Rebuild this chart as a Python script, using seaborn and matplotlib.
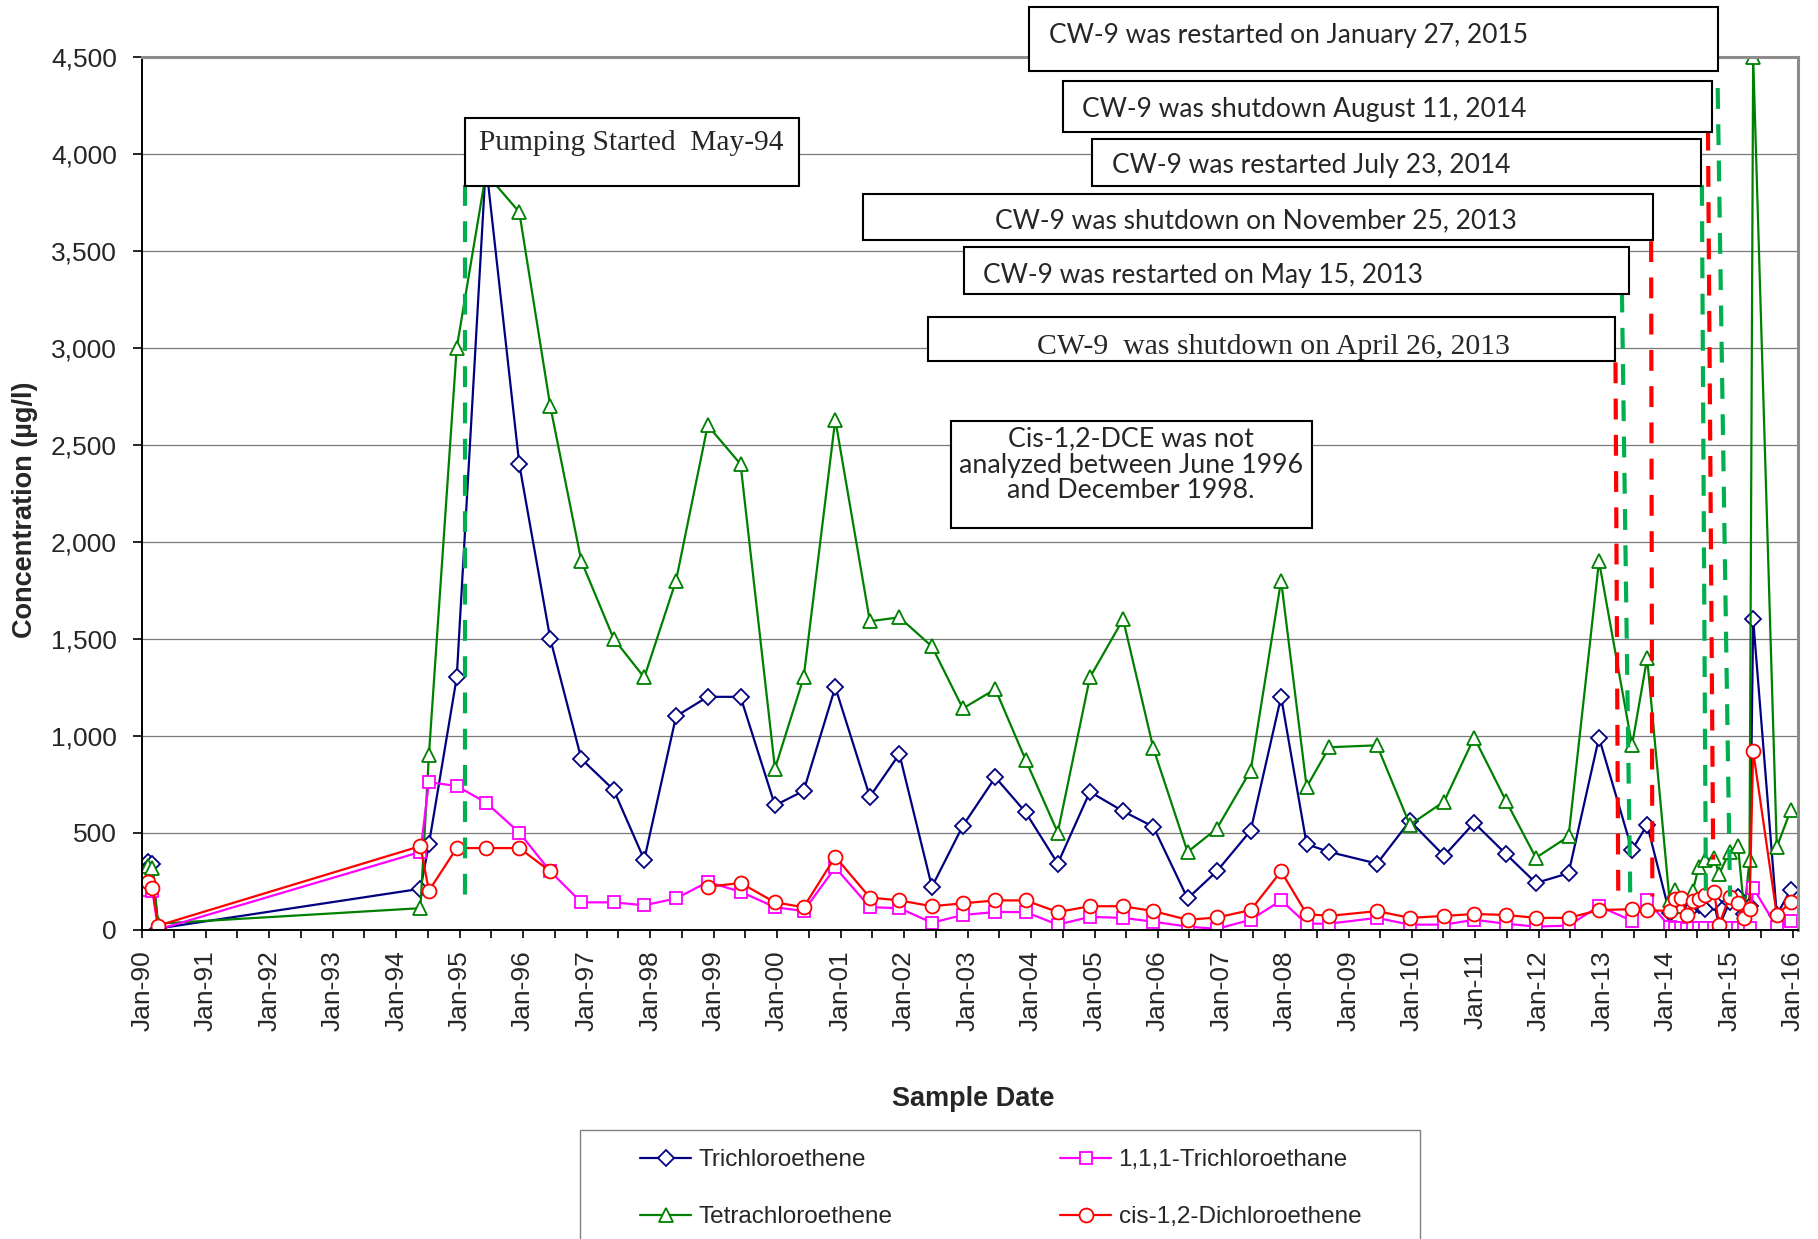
import numpy as np
import pandas as pd
import matplotlib
matplotlib.use("Agg")
import matplotlib.pyplot as plt
import matplotlib.dates as mdates
from matplotlib.lines import Line2D
from matplotlib.patches import Rectangle
from matplotlib.ticker import MultipleLocator, StrMethodFormatter
import seaborn as sns

nan = np.nan

# sample dates
sample_dates = [
    "1990-02-05", "1990-02-28", "1990-04-02",
    "1994-05-20", "1994-07-08", "1994-12-15", "1995-06-01", "1995-12-10",
    "1996-06-05", "1996-12-01", "1997-06-05", "1997-11-28", "1998-05-30",
    "1998-11-28", "1999-06-05", "1999-12-20", "2000-06-02", "2000-12-01",
    "2001-06-18", "2001-12-05", "2002-06-10", "2002-12-05", "2003-06-10",
    "2003-12-01", "2004-06-03", "2004-12-05", "2005-06-14", "2005-12-05",
    "2006-06-20", "2006-12-05", "2007-06-18", "2007-12-10", "2008-05-05",
    "2008-09-12", "2009-06-14", "2009-12-20", "2010-07-05", "2010-12-25",
    "2011-06-25", "2011-12-15", "2012-06-20", "2012-12-12", "2013-06-20",
    "2013-09-15", "2014-01-22", "2014-02-25", "2014-03-28", "2014-05-05",
    "2014-06-05", "2014-07-08", "2014-08-14", "2014-10-05", "2014-11-03",
    "2015-01-02", "2015-02-20", "2015-03-28", "2015-04-27", "2015-05-18",
    "2015-10-01", "2015-12-20",
]

trichloroethene = [
    350, 340, 5,
    210, 440, 1300, 3950, 2400,
    1500, 880, 720, 360, 1100,
    1200, 1200, 640, 715, 1250,
    685, 905, 220, 535, 785,
    605, 340, 710, 610, 530,
    160, 300, 510, 1200, 440,
    400, 340, 560, 380, 550,
    390, 240, 290, 990, 410,
    540, 85, 130, 140, 90,
    115, 125, 105, 140, 17,
    140, 170, 80, 120, 1600,
    75, 205,
]

tetrachloroethene = [
    330, 315, 30,
    110, 900, 3000, 3900, 3700,
    2700, 1900, 1500, 1300, 1800,
    2600, 2400, 830, 1300, 2630,
    1590, 1610, 1460, 1140, 1240,
    875, 500, 1300, 1600, 935,
    400, 520, 820, 1800, 735,
    940, 950, 540, 660, 990,
    665, 370, 480, 1900, 950,
    1400, 150, 205, 120, 30,
    200, 320, 360, 370, 285,
    400, 430, 90, 360, 4500,
    425, 615,
]

trichloroethane = [
    205, 200, 0,
    400, 760, 740, 655, 500,
    300, 140, 140, 125, 160,
    245, 195, 115, 95, 320,
    115, 110, 35, 75, 90,
    90, 25, 65, 60, 40,
    15, 3, 50, 150, 30,
    30, 60, 25, 25, 50,
    30, 15, 20, 120, 45,
    150, 15, 10, 10, 3,
    8, 8, 8, 8, 0,
    8, 8, 8, 10, 215,
    12, 45,
]

# cis-1,2-DCE was not analyzed June 1996 - December 1998
dichloroethene = [
    245, 213, 20,
    430, 200, 420, 420, 420,
    300, nan, nan, nan, nan,
    220, 240, 140, 115, 375,
    165, 150, 120, 135, 150,
    150, 90, 120, 120, 95,
    50, 62, 100, 300, 80,
    70, 95, 60, 70, 80,
    75, 60, 60, 100, 105,
    100, 95, 155, 165, 75,
    145, 155, 180, 195, 25,
    170, 135, 60, 105, 920,
    75, 140,
]

compounds = ["Trichloroethene", "Tetrachloroethene",
             "1,1,1-Trichloroethane", "cis-1,2-Dichloroethene"]

# pumping / CW-9 events (dashed lines), dates and levels
event_kind = ["restart", "shutdown", "restart", "shutdown",
              "restart", "shutdown", "restart"]
event_top_date = ["1995-01-30", "2013-03-17", "2013-04-23", "2013-10-08",
                  "2014-07-27", "2014-08-31", "2014-10-26"]
event_bottom_date = ["1995-01-30", "2013-04-02", "2013-06-10", "2013-10-15",
                     "2014-08-19", "2014-09-30", "2015-01-05"]
event_top = [3840, 2925, 3290, 3550, 3840, 4125, 4340]
event_bottom = [150, 170, 170, 170, 200, 360, 170]

colors = {"Trichloroethene": "#000080", "Tetrachloroethene": "#008000",
          "1,1,1-Trichloroethane": "#FF00FF", "cis-1,2-Dichloroethene": "#FF0000"}
markers = {"Trichloroethene": "D", "Tetrachloroethene": "^",
           "1,1,1-Trichloroethane": "s", "cis-1,2-Dichloroethene": "o"}
marker_size = {"D": 8, "^": 10.5, "s": 9, "o": 10}
event_colors = {"restart": "#00B050", "shutdown": "#FF0000"}

sns.set_theme(style="white")
plt.rcParams["font.family"] = ["Liberation Sans", "DejaVu Sans"]

W, H = 1818, 1239


def fx(px):
    return px / W


def fy(py):
    return 1 - py / H


frames = []
for name, vals in zip(compounds, [trichloroethene, tetrachloroethene,
                                  trichloroethane, dichloroethene]):
    part = pd.DataFrame({"date": pd.to_datetime(sample_dates),
                         "value": vals, "compound": name})
    # a new segment after each missing value keeps the gap open
    part["segment"] = part["value"].isna().cumsum()
    frames.append(part.dropna())
df = pd.concat(frames, ignore_index=True)

fig = plt.figure(figsize=(W / 100, H / 100), dpi=100)
ax = fig.add_axes([fx(142.3), fy(929.5), (1798 - 142.3) / W, (929.5 - 57) / H])

ax.yaxis.grid(True, color="#7a7a7a", lw=0.9)
ax.set_axisbelow(True)

sns.lineplot(data=df, x="date", y="value", hue="compound", style="compound",
             units="segment", estimator=None, hue_order=compounds,
             style_order=compounds, palette=colors, markers=markers,
             dashes=False, legend=False, lw=1.6, ms=8,
             markeredgewidth=1.3, ax=ax)

for line in ax.lines:
    line.set_markeredgecolor(line.get_color())
    line.set_markerfacecolor("white")
    line.set_markersize(marker_size.get(line.get_marker(), 8))

for kind, d0, d1, y0, y1 in zip(event_kind, event_top_date, event_bottom_date,
                                event_top, event_bottom):
    ax.plot(pd.to_datetime([d0, d1]), [y0, y1], color=event_colors[kind],
            lw=3, dashes=(5, 3.7), zorder=4)

ax.set_ylim(0, 4500)
ax.set_xlim(pd.Timestamp("1990-01-01"), pd.Timestamp("2016-01-31"))
ax.yaxis.set_major_locator(MultipleLocator(500))
ax.yaxis.set_major_formatter(StrMethodFormatter("{x:,.0f}"))
ax.xaxis.set_major_locator(mdates.YearLocator())
ax.xaxis.set_minor_locator(mdates.MonthLocator(bymonth=7))
ax.xaxis.set_major_formatter(mdates.DateFormatter("%b-%y"))
ax.tick_params(axis="x", which="major", direction="out", length=6, width=1.2,
               color="black", labelsize=19, pad=9, rotation=90, bottom=True)
ax.tick_params(axis="x", which="minor", direction="out", length=6, width=1.2,
               color="black", bottom=True)
ax.tick_params(axis="y", direction="out", length=6.3, width=1.2, color="black",
               labelsize=19, pad=12, left=True)

for side in ["left", "bottom"]:
    ax.spines[side].set_color("black")
    ax.spines[side].set_linewidth(1.4)
for side in ["top", "right"]:
    ax.spines[side].set_color("#8c8c8c")
    ax.spines[side].set_linewidth(2.2)

ax.set_ylabel("Concentration (µg/l)", fontsize=19.5, fontweight="bold")
ax.yaxis.set_label_coords(-0.063, 0.481)
ax.set_xlabel("Sample Date", fontsize=19.5, fontweight="bold")
ax.xaxis.set_label_coords(0.502, -0.179)


def note_box(x0, y0, x1, y1):
    fig.add_artist(Rectangle((fx(x0), fy(y1)), (x1 - x0) / W, (y1 - y0) / H,
                             transform=fig.transFigure, facecolor="white",
                             edgecolor="black", lw=1.5, zorder=5))


calibri = ["Lato", "DejaVu Sans"]
times = ["Liberation Serif", "DejaVu Serif"]

notes = [
    ((1028.5, 7, 1717.7, 70.7), 1048.6, 36, "CW-9 was restarted on January 27, 2015", calibri, 19),
    ((1062.5, 81, 1711.7, 132.3), 1082, 109, "CW-9 was shutdown August 11, 2014", calibri, 19),
    ((1092, 139, 1701, 185.7), 1112, 166, "CW-9 was restarted July 23, 2014", calibri, 19),
    ((863, 193.7, 1652.7, 240.3), 995, 221, "CW-9 was shutdown on November 25, 2013", calibri, 19),
    ((963.6, 247.3, 1628.7, 294.3), 983, 275.7, "CW-9 was restarted on May 15, 2013", calibri, 19),
    ((927.7, 316.7, 1615, 361.4), 1036.8, 347.5, "CW-9  was shutdown on April 26, 2013", times, 21.4),
    ((464.8, 118, 798.8, 186.4), 479.4, 143.5, "Pumping Started  May-94", times, 21.2),
]
for box, tx, ty, text, fam, size in notes:
    note_box(*box)
    fig.text(fx(tx), fy(ty), text, family=fam, fontsize=size,
             ha="left", va="center", zorder=6)

note_box(950.6, 420.7, 1312, 527.9)
for ty, text in zip([438.6, 466, 491], ["Cis-1,2-DCE was not",
                                        "analyzed between June 1996",
                                        "and December 1998."]):
    fig.text(fx(1131), fy(ty), text, family=calibri, fontsize=19.3,
             ha="center", va="center", zorder=6)

# legend
fig.add_artist(Rectangle((fx(580), fy(1260)), (1420 - 580) / W, (1260 - 1130) / H,
                         transform=fig.transFigure, facecolor="white",
                         edgecolor="#808080", lw=1.0, zorder=1))
handles = [Line2D([], [], color=colors[c], marker=markers[c], lw=1.6,
                  ms=marker_size[markers[c]], mfc="white", mec=colors[c],
                  mew=1.3) for c in compounds]
leg = fig.legend(handles, compounds, ncol=2, loc="upper left",
                 bbox_to_anchor=(fx(628), fy(1137)), bbox_transform=fig.transFigure,
                 frameon=False, borderpad=0, handlelength=2.1, handletextpad=0.3,
                 columnspacing=6.9, labelspacing=1.45, fontsize=17.5)
leg.set_zorder(6)

fig.savefig("out.png", dpi=100)
